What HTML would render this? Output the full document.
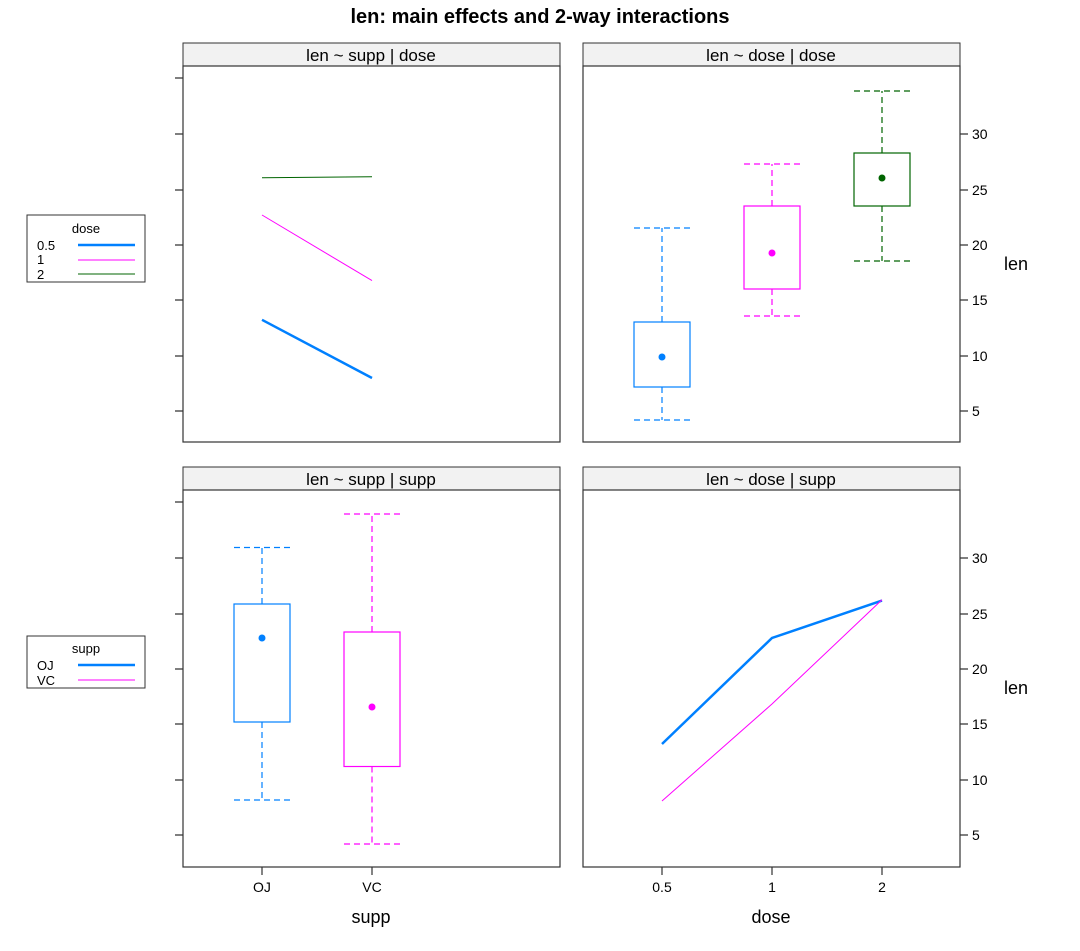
<!DOCTYPE html>
<html><head><meta charset="utf-8"><style>body{margin:0;background:#fff}svg{display:block;font-family:"Liberation Sans",sans-serif}</style></head><body>
<svg width="1080" height="951" viewBox="0 0 1080 951">
<text x="540" y="23" font-size="20" font-weight="bold" text-anchor="middle">len: main effects and 2-way interactions</text>
<g fill="#f2f2f2" stroke="#333" stroke-width="1">
<rect x="183" y="43" width="377" height="23"/><rect x="583" y="43" width="377" height="23"/>
<rect x="183" y="467" width="377" height="23"/><rect x="583" y="467" width="377" height="23"/>
</g>
<g font-size="17" text-anchor="middle">
<text x="371" y="61">len ~ supp | dose</text><text x="771" y="61">len ~ dose | dose</text>
<text x="371" y="485">len ~ supp | supp</text><text x="771" y="485">len ~ dose | supp</text>
</g>
<g fill="none" stroke="#333" stroke-width="1.2">
<rect x="183" y="66" width="377" height="376"/><rect x="583" y="66" width="377" height="376"/>
<rect x="183" y="490" width="377" height="377"/><rect x="583" y="490" width="377" height="377"/>
<path d="M175 78H183M175 134H183M175 190H183M175 245H183M175 300H183M175 356H183M175 411H183"/>
<path d="M175 502H183M175 558H183M175 614H183M175 669H183M175 724H183M175 780H183M175 835H183"/>
<path d="M960 134H968M960 190H968M960 245H968M960 300H968M960 356H968M960 411H968"/>
<path d="M960 558H968M960 614H968M960 669H968M960 724H968M960 780H968M960 835H968"/>
<path d="M262 867V875M372 867V875M662 867V875M772 867V875M882 867V875"/>
</g>
<g font-size="14">
<text x="972" y="139">30</text><text x="972" y="195">25</text><text x="972" y="250">20</text><text x="972" y="305">15</text><text x="972" y="361">10</text><text x="972" y="416">5</text>
<text x="972" y="563">30</text><text x="972" y="619">25</text><text x="972" y="674">20</text><text x="972" y="729">15</text><text x="972" y="785">10</text><text x="972" y="840">5</text>
</g>
<g font-size="14" text-anchor="middle">
<text x="262" y="892">OJ</text><text x="372" y="892">VC</text><text x="662" y="892">0.5</text><text x="772" y="892">1</text><text x="882" y="892">2</text>
</g>
<g font-size="18" text-anchor="middle">
<text x="371" y="923">supp</text><text x="771" y="923">dose</text>
<text x="1016" y="270">len</text><text x="1016" y="694">len</text>
</g>
<!-- top-left lines -->
<line x1="262" y1="177.7" x2="372" y2="176.8" stroke="#006400" stroke-width="1"/>
<line x1="262" y1="215" x2="372" y2="280.6" stroke="#ff00ff" stroke-width="1"/>
<line x1="262" y1="319.8" x2="372" y2="378" stroke="#0080ff" stroke-width="2.5"/>
<!-- top-right boxes -->
<g fill="none" stroke-width="1.2">
<g stroke="#0080ff"><rect x="634" y="322" width="56" height="65"/><path d="M662 322V228M662 387V420M634 228H690M634 420H690" stroke-dasharray="6,4"/></g>
<g stroke="#ff00ff"><rect x="744" y="206" width="56" height="83"/><path d="M772 206V164M772 289V316M744 164H800M744 316H800" stroke-dasharray="6,4"/></g>
<g stroke="#006400"><rect x="854" y="153" width="56" height="53"/><path d="M882 153V91M882 206V261M854 91H910M854 261H910" stroke-dasharray="6,4"/></g>
<g stroke="#0080ff"><rect x="234" y="604" width="56" height="118"/><path d="M262 604V547.5M262 722V800M234 547.5H290M234 800H290" stroke-dasharray="6,4"/></g>
<g stroke="#ff00ff"><rect x="344" y="632" width="56" height="134.5"/><path d="M372 632V514M372 766.5V844M344 514H400M344 844H400" stroke-dasharray="6,4"/></g>
</g>
<circle cx="662" cy="357" r="3.5" fill="#0080ff"/><circle cx="772" cy="253" r="3.5" fill="#ff00ff"/><circle cx="882" cy="178" r="3.5" fill="#006400"/>
<circle cx="262" cy="638" r="3.5" fill="#0080ff"/><circle cx="372" cy="707" r="3.5" fill="#ff00ff"/>
<!-- bottom-right lines -->
<polyline points="662,744 772,638 882,600.6" fill="none" stroke="#0080ff" stroke-width="2.5"/>
<polyline points="662,801 772,704 882,599.8" fill="none" stroke="#ff00ff" stroke-width="1"/>
<!-- legends -->
<rect x="27" y="215" width="118" height="67" fill="none" stroke="#333"/>
<g font-size="13"><text x="86" y="233" text-anchor="middle">dose</text><text x="37" y="250">0.5</text><text x="37" y="264">1</text><text x="37" y="279">2</text></g>
<line x1="78" y1="245" x2="135" y2="245" stroke="#0080ff" stroke-width="2.5"/>
<line x1="78" y1="260" x2="135" y2="260" stroke="#ff00ff"/>
<line x1="78" y1="274" x2="135" y2="274" stroke="#006400"/>
<rect x="27" y="636" width="118" height="52" fill="none" stroke="#333"/>
<g font-size="13"><text x="86" y="653" text-anchor="middle">supp</text><text x="37" y="670">OJ</text><text x="37" y="685">VC</text></g>
<line x1="78" y1="665" x2="135" y2="665" stroke="#0080ff" stroke-width="2.5"/>
<line x1="78" y1="680" x2="135" y2="680" stroke="#ff00ff"/>
</svg>
</body></html>
